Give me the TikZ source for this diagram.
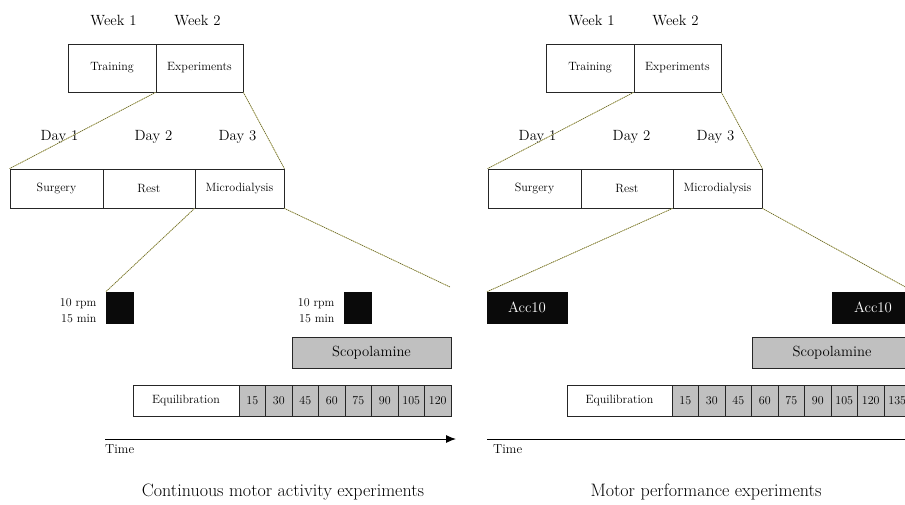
\documentclass[tikz,border=0pt]{standalone}
\usetikzlibrary{arrows.meta}
\definecolor{zoomcol}{RGB}{220,215,150}
\definecolor{zoomdot}{RGB}{100,100,55}
\definecolor{cellgray}{RGB}{192,192,192}
\definecolor{boxblack}{RGB}{10,10,10}
\tikzset{
  big/.style={font=\fontsize{14.8}{17}\selectfont},
  small/.style={font=\fontsize{12}{14}\selectfont},
  wbox/.style={draw=black!85, line width=0.8pt, fill=white, inner sep=0pt, small},
  gbox/.style={draw=black!85, line width=0.8pt, fill=cellgray, inner sep=0pt, small},
  scop/.style={draw=black!85, line width=0.8pt, fill=cellgray, inner sep=0pt, font=\fontsize{14.7}{17}\selectfont},
  blk/.style={draw=boxblack, fill=boxblack, inner sep=0pt, text=white, font=\fontsize{14.8}{17}\selectfont},
  zoomline/.style={draw=zoomcol, line width=0.7pt, postaction={draw=zoomdot, line width=0.7pt, dash pattern=on 1pt off 1pt}},
  caption/.style={font=\fontsize{18}{21}\selectfont},
  timelbl/.style={font=\fontsize{13}{15}\selectfont, anchor=west, inner sep=0pt},
  timearrow/.style={line width=1pt, -{Latex[length=10pt,width=8pt]}},
}
\begin{document}
\begin{tikzpicture}[x=1pt,y=-1pt]
\useasboundingbox (0,0) rectangle (905,504);
\clip (0,0) rectangle (905,504);

% ================= LEFT PANEL =================
\node[big] (w1) at (113.5,21) {Week 1};
\node[big] (w2) at (197.5,21) {Week 2};
\node[wbox, minimum width=88pt, minimum height=48pt] (train) at (112,68) {Training};
\node[wbox, minimum width=87pt, minimum height=48pt] (exper) at (199.5,68) {Experiments};

\node[big] (d1) at (59.5,137) {Day 1};
\node[big] (d2) at (153.5,137) {Day 2};
\node[big] (d3) at (237.5,137) {Day 3};
\node[wbox, minimum width=93pt, minimum height=39pt] (surg) at (56.5,188.5) {Surgery};
\node[wbox, minimum width=92pt, minimum height=39pt] (rest) at (149,188.5) {Rest};
\node[wbox, minimum width=89pt, minimum height=39pt] (micro) at (239.5,188.5) {Microdialysis};

\node[blk, minimum width=27pt, minimum height=31pt] (bk1) at (119.5,307.5) {};
\node[blk, minimum width=27pt, minimum height=31pt] (bk2) at (357.5,307.5) {};
\node[small, anchor=mid east] (r1a) at (100,304) {10 rpm};
\node[small, anchor=mid east] (r1b) at (100,320) {15 min};
\node[small, anchor=mid east] (r2a) at (338,304) {10 rpm};
\node[small, anchor=mid east] (r2b) at (338,320) {15 min};

\node[scop, minimum width=159pt, minimum height=31pt] (scopL) at (371.5,352.5) {Scopolamine};

\node[wbox, minimum width=106pt, minimum height=31pt] (eqL) at (186,400.5) {Equilibration};
\foreach \t [count=\i from 0] in {15,30,45,60,75,90,105,120}{
  \node[gbox, minimum width=26.5pt, minimum height=31pt] (cL\i) at ({239+26.5*(\i+0.5)},400.5) {\t};
}

\coordinate (tL0) at (105,439);
\coordinate (tL1) at (456,439);
\draw[timearrow] (tL0) -- (tL1);
\node[timelbl] (timeL) at (105,449) {Time};

\node[caption] (capL) at (283,492) {Continuous motor activity experiments};

\coordinate (zL) at (450,287);
\draw[zoomline] (exper.south west) -- (surg.north west);
\draw[zoomline] (exper.south east) -- (micro.north east);
\draw[zoomline] (micro.south west) -- (bk1.north west);
\draw[zoomline] (micro.south east) -- (zL);

% ================= RIGHT PANEL =================
\node[big] (v1) at (591.5,21) {Week 1};
\node[big] (v2) at (675.5,21) {Week 2};
\node[wbox, minimum width=88pt, minimum height=48pt] (train2) at (590,68) {Training};
\node[wbox, minimum width=87pt, minimum height=48pt] (exper2) at (677.5,68) {Experiments};

\node[big] (e1) at (537.5,137) {Day 1};
\node[big] (e2) at (631.5,137) {Day 2};
\node[big] (e3) at (715.5,137) {Day 3};
\node[wbox, minimum width=93pt, minimum height=39pt] (surg2) at (534.5,188.5) {Surgery};
\node[wbox, minimum width=92pt, minimum height=39pt] (rest2) at (627,188.5) {Rest};
\node[wbox, minimum width=89pt, minimum height=39pt] (micro2) at (717.5,188.5) {Microdialysis};

\node[blk, minimum width=80pt, minimum height=31pt] (acc1) at (527,307.5) {Acc10};
\node[blk, minimum width=82pt, minimum height=31pt] (acc2) at (873,307.5) {Acc10};

\node[scop, minimum width=160pt, minimum height=31pt] (scopR) at (832,352.5) {Scopolamine};

\node[wbox, minimum width=105pt, minimum height=31pt] (eqR) at (619.5,400.5) {Equilibration};
\foreach \t [count=\i from 0] in {15,30,45,60,75,90,105,120,135}{
  \node[gbox, minimum width=26.5pt, minimum height=31pt] (cR\i) at ({672+26.5*(\i+0.5)},400.5) {\t};
}

\coordinate (tR0) at (487,439);
\coordinate (tR1) at (930,439);
\draw[timearrow] (tR0) -- (tR1);
\node[timelbl] (timeR) at (493,449) {Time};

\node[caption] (capR) at (706,492) {Motor performance experiments};

\draw[zoomline] (exper2.south west) -- (surg2.north west);
\draw[zoomline] (exper2.south east) -- (micro2.north east);
\draw[zoomline] (micro2.south west) -- (acc1.north west);
\draw[zoomline] (micro2.south east) -- (acc2.north east);
\end{tikzpicture}
\end{document}
